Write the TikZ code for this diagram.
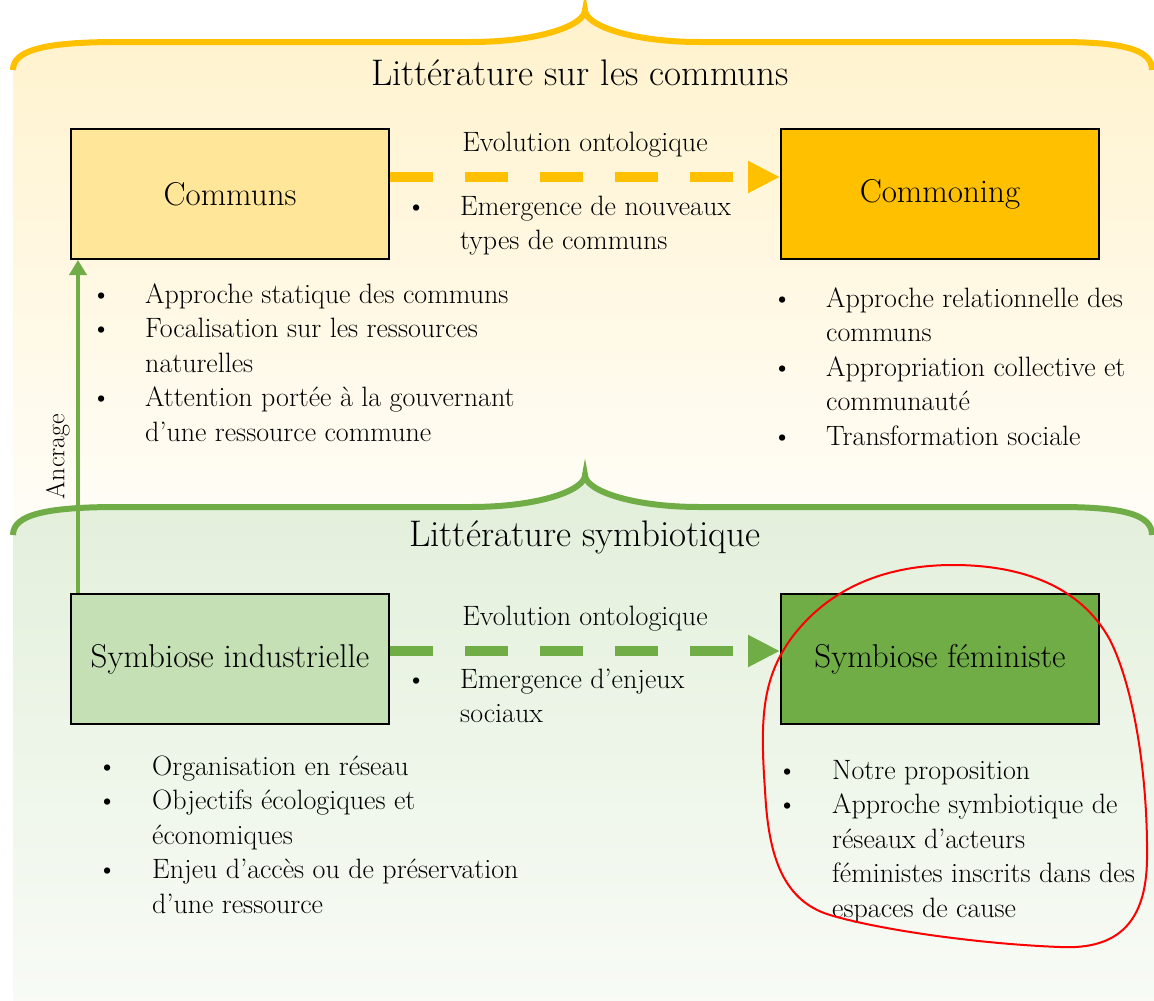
\documentclass[tikz,border=0pt]{standalone}
\usepackage{tikz}
\usetikzlibrary{arrows.meta}

\definecolor{jaune}{HTML}{FFC000}
\definecolor{jauneclair}{HTML}{FFE699}
\definecolor{jaunefond}{HTML}{FFF2CC}
\definecolor{vert}{HTML}{70AD47}
\definecolor{vertclair}{HTML}{C5E0B4}
\definecolor{vertfond}{HTML}{E2EFDA}

% accolade horizontale, #1 = hauteur du trait
\newcommand{\accolade}[1]{(13,#1+28) .. controls (13,#1+8) and (45,#1) .. (118,#1) -- (470,#1)
  .. controls (540,#1) and (585,#1-17) .. (585,#1-32) .. controls (585,#1-17) and (630,#1) .. (700,#1)
  -- (1059,#1) .. controls (1125,#1) and (1152,#1+8) .. (1152,#1+28)}

\begin{document}
\begin{tikzpicture}[x=1pt, y=-1pt,
boite/.style={draw, line width=2pt, minimum width=318pt, minimum height=130pt, inner sep=0pt, font=\fontsize{33}{38}\selectfont},
liste/.style={anchor=north west, inner sep=0pt, font=\fontsize{28}{34.5}\selectfont},
evolution/.style={line width=10pt, dash pattern=on 43pt off 32pt, -{Triangle[length=32pt, width=30pt]}},
legende/.style={font=\fontsize{28}{32}\selectfont, text=black}]
\useasboundingbox (0,0) rectangle (1154,1001);
\shade[top color=jaunefond, bottom color=jaunefond!12] \accolade{42} -- (1154,70) -- (1154,545) -- (13,545) -- cycle;
\shade[top color=vertfond, bottom color=vertfond!25] \accolade{507} -- (1154,535) -- (1154,1001) -- (13,1001) -- cycle;
\draw[jaune, line width=6pt] \accolade{42};
\draw[vert, line width=6pt] \accolade{507};
\node[font=\fontsize{37}{42}\selectfont] (titre-communs) at (580,73) {Littérature sur les communs};
\node[font=\fontsize{37}{42}\selectfont] (titre-symb) at (585,537) {Littérature symbiotique};

\node[boite, fill=jauneclair] (communs) at (230,194) {Communs};
\node[boite, fill=jaune] (commoning) at (940,194) {Commoning};
\node[boite, fill=vertclair] (indus) at (230,659) {Symbiose industrielle};
\node[boite, fill=vert] (feministe) at (940,659) {Symbiose féministe};

\draw[evolution, jaune] ([yshift=17pt]communs.east) -- ([yshift=17pt]commoning.west)
  node[midway, above=11pt, legende] {Evolution ontologique};
\draw[evolution, vert] ([yshift=8pt]indus.east) -- ([yshift=8pt]feministe.west)
  node[midway, above=11pt, legende] {Evolution ontologique};
\draw[vert, line width=4pt, -{Triangle[length=15pt, width=17pt]}] ([xshift=8pt]indus.north west) -- ([xshift=8pt]communs.south west)
  node[pos=0.41, above=3pt, sloped, font=\fontsize{26}{30}\selectfont, text=black] {Ancrage};

\node[liste] (puces-evol1) at (406,191) {\begin{tabular}{@{}p{54pt}@{}l@{}}
\textbullet & Emergence de nouveaux\\
 & types de communs
\end{tabular}};
\node[liste] (puces-evol2) at (406,664) {\begin{tabular}{@{}p{54pt}@{}l@{}}
\textbullet & Emergence d’enjeux\\
 & sociaux
\end{tabular}};
\node[liste] (puces-communs) at (91,279) {\begin{tabular}{@{}p{54pt}@{}l@{}}
\textbullet & Approche statique des communs\\
\textbullet & Focalisation sur les ressources\\
 & naturelles\\
\textbullet & Attention portée à la gouvernant\\
 & d’une ressource commune
\end{tabular}};
\node[liste] (puces-commoning) at (772,283) {\begin{tabular}{@{}p{54pt}@{}l@{}}
\textbullet & Approche relationnelle des\\
 & communs\\
\textbullet & Appropriation collective et\\
 & communauté\\
\textbullet & Transformation sociale
\end{tabular}};
\node[liste] (puces-indus) at (97,751) {\begin{tabular}{@{}p{55pt}@{}l@{}}
\textbullet & Organisation en réseau\\
\textbullet & Objectifs écologiques et\\
 & économiques\\
\textbullet & Enjeu d’accès ou de préservation\\
 & d’une ressource
\end{tabular}};
\node[liste] (puces-feministe) at (777,755) {\begin{tabular}{@{}p{55pt}@{}l@{}}
\textbullet & Notre proposition\\
\textbullet & Approche symbiotique de\\
 & réseaux d’acteurs\\
 & féministes inscrits dans des\\
 & espaces de cause
\end{tabular}};

\draw[red, line width=2pt] (953,565) .. controls (1020,565) and (1080,585) .. (1110,640)
  .. controls (1135,690) and (1148,780) .. (1147,860) .. controls (1146,920) and (1120,950) .. (1060,947)
  .. controls (980,944) and (880,930) .. (830,915) .. controls (780,900) and (768,850) .. (765,790)
  .. controls (760,720) and (762,680) .. (790,640) .. controls (830,585) and (890,565) .. cycle;
\end{tikzpicture}
\end{document}
